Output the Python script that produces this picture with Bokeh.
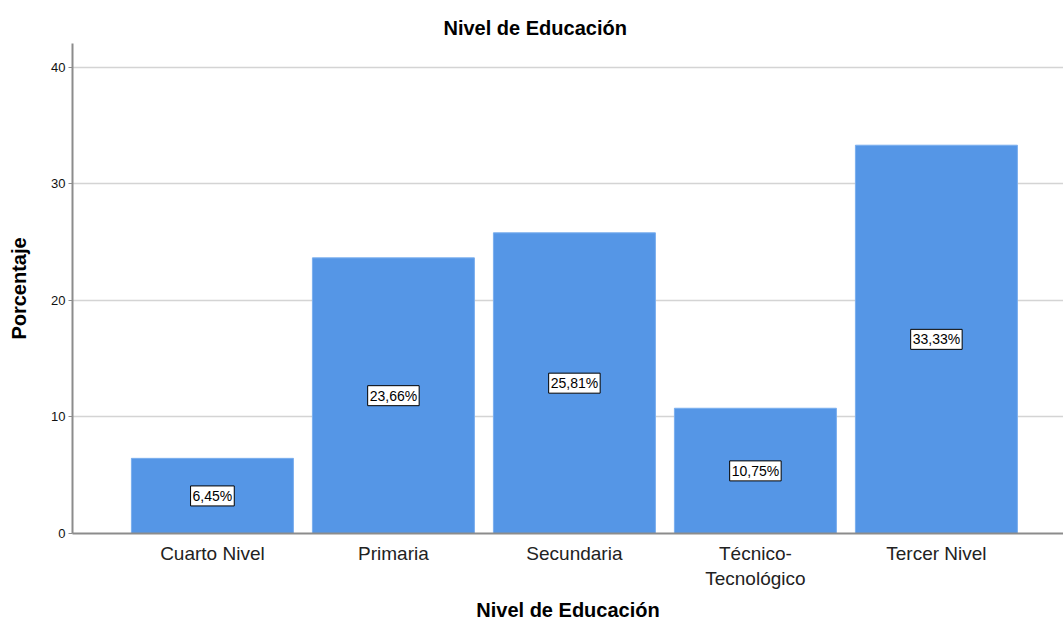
from bokeh.plotting import figure
from bokeh.models import ColumnDataSource, Range1d, FixedTicker
from bokeh.core.properties import value
from bokeh.embed import file_html
from bokeh.resources import INLINE

categories = ["Cuarto Nivel", "Primaria", "Secundaria", "Técnico-\nTecnológico", "Tercer Nivel"]
values = [6.45, 23.66, 25.81, 10.75, 33.33]
y_ticks = [0, 10, 20, 30, 40]

xs = list(range(len(categories)))
labels = [f"{v:.2f}".replace(".", ",") + "%" for v in values]
src = ColumnDataSource(dict(x=xs, top=values, mid=[v / 2 for v in values], lab=labels))

W, H = 1063, 624
L = 72
p = figure(width=W, height=H, output_backend="svg", toolbar_location=None,
           x_range=Range1d(-0.773, -0.773 + (W - L) / 181.0),
           y_range=Range1d(0, 42.06),
           min_border_left=L, min_border_right=0, min_border_top=43, min_border_bottom=91,
           title="Nivel de Educación")

p.title.text_font = "Liberation Sans"
p.title.text_font_size = "20px"
p.title.text_font_style = "bold"
p.title.align = "left"
p.title.offset = 371
p.title.standoff = 9
p.title.text_color = "#000000"

p.vbar(x="x", top="top", width=0.895, source=src, fill_color="#5596e6",
       line_color="#7aaeee", line_width=1)

p.text(x="x", y="mid", text="lab", source=src, text_align="center",
       text_baseline="middle", text_font=value("Liberation Sans"),
       text_font_size="14px", text_color="#000000",
       background_fill_color="white", padding=2,
       border_line_color="black", border_line_width=1)

p.outline_line_color = None
p.xgrid.grid_line_color = None
p.ygrid.grid_line_color = "#d4d4d4"
p.ygrid.grid_line_width = 1.5
p.ygrid.ticker = FixedTicker(ticks=y_ticks)

p.yaxis.ticker = FixedTicker(ticks=y_ticks)
p.yaxis.axis_label = "Porcentaje"
p.yaxis.axis_label_text_font = "Liberation Sans"
p.yaxis.axis_label_text_font_size = "20px"
p.yaxis.axis_label_text_font_style = "bold"
p.yaxis.axis_label_text_color = "#000000"
p.yaxis.axis_label_standoff = 18
p.yaxis.major_label_text_font = "Liberation Sans"
p.yaxis.major_label_text_font_size = "13px"
p.yaxis.major_label_text_color = "#111111"
p.yaxis.major_label_standoff = 3
p.yaxis.major_tick_out = 4
p.yaxis.major_tick_in = 0
p.yaxis.minor_tick_line_color = None
p.yaxis.axis_line_color = "#8c8c8c"
p.yaxis.axis_line_width = 2
p.yaxis.major_tick_line_color = "#8c8c8c"

p.xaxis.ticker = FixedTicker(ticks=xs)
p.xaxis.major_label_overrides = {i: c for i, c in zip(xs, categories)}
p.xaxis.axis_label = "Nivel de Educación"
p.xaxis.axis_label_text_font = "Liberation Sans"
p.xaxis.axis_label_text_font_size = "20px"
p.xaxis.axis_label_text_font_style = "bold"
p.xaxis.axis_label_text_color = "#000000"
p.xaxis.axis_label_standoff = 7
p.xaxis.major_label_text_font = "Liberation Sans"
p.xaxis.major_label_text_font_size = "19px"
p.xaxis.major_label_text_color = "#222222"
p.xaxis.major_label_standoff = 9
p.xaxis.major_tick_out = 0
p.xaxis.major_tick_in = 0
p.xaxis.major_tick_line_color = None
p.xaxis.minor_tick_line_color = None
p.xaxis.axis_line_color = "#8c8c8c"
p.xaxis.axis_line_width = 2

open("out.html", "w").write(file_html(p, INLINE))
